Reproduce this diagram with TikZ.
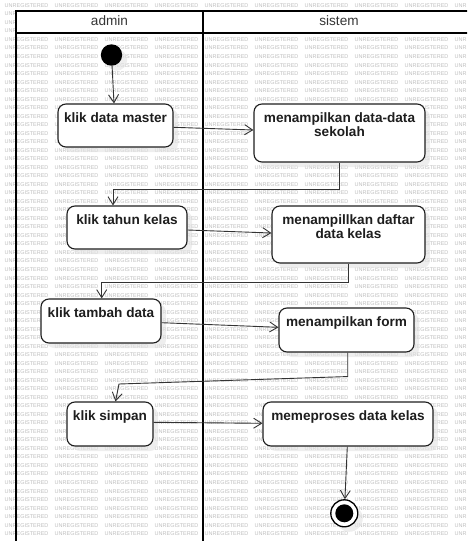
\documentclass[tikz,border=0pt]{standalone}
\usepackage{fontspec}
\setmainfont{Liberation Sans}
\usetikzlibrary{arrows.meta,shadows}
\definecolor{wmgray}{RGB}{190,190,190}
\definecolor{ink}{RGB}{30,30,30}
\definecolor{wire}{RGB}{51,51,51}
\begin{document}
\begin{tikzpicture}[x=1pt,y=-1pt,
  wm/.style={inner sep=0pt, anchor=west, text=wmgray, font=\fontsize{5.5}{6}\selectfont},
  lanerule/.style={line width=2pt, draw=black},
  lanehead/.style={inner sep=0pt, font=\fontsize{13.6}{14}\selectfont, text=ink!90},
  softshadow/.style={drop shadow={shadow xshift=5pt, shadow yshift=-5pt, fill=gray!22, opacity=0.6}},
  act/.style={draw=ink, line width=1.1pt, fill=white, rounded corners=8pt, inner sep=0pt, softshadow},
  acttext/.style={anchor=north, yshift=-5.8pt, inner sep=3.33pt, align=center, text=ink,
    font=\bfseries\fontsize{13.6}{13.4}\selectfont},
  flow/.style={draw=wire, line width=0.9pt, -{Straight Barb[length=8pt,width=10pt]}},
]
\useasboundingbox (0,0) rectangle (467,541);
\clip (0,0) rectangle (467,541);

% tiled licence watermark under the whole sheet; the last column runs into the edge
\foreach \r in {0,...,62}{
  \foreach \c in {0,...,8}{
    \node[wm] (wm-\r-\c) at (4.5+50*\c, 5.5+8.52*\r) {UNREGISTERED};
  }
  \node[wm] (wm-\r-9) at (454.5, 5.5+8.52*\r) {UNR};
}

% swimlane frame and headers
\fill[white] (16,11) rectangle (480,32.5);
\draw[lanerule] (480,11) -- (16,11) -- (16,560);
\draw[lanerule] (16,32.5) -- (480,32.5);
\draw[lanerule] (203,11) -- (203,560);
\node[lanehead] (hadmin) at (109.5,21) {admin};
\node[lanehead] (hsistem) at (339,21) {sistem};

% initial and final states
\node[circle, fill=black, minimum size=21.4pt, inner sep=0pt, softshadow] (start) at (111.5,55) {};
\node[circle, draw=black, line width=1.3pt, fill=white, minimum size=27pt, inner sep=0pt, softshadow] (end) at (344.3,513.3) {};
\node[circle, fill=black, minimum size=18pt, inner sep=0pt] (endcore) at (end) {};

% admin actions
\node[act, minimum width=115pt, minimum height=43pt, label={[acttext]north:klik data master}] (a1) at (115.5,125.5) {};
\node[act, minimum width=120pt, minimum height=43pt, label={[acttext]north:klik tahun kelas}] (a2) at (127,227.5) {};
\node[act, minimum width=120pt, minimum height=44pt, label={[acttext]north:klik tambah data}] (a3) at (101,321) {};
\node[act, minimum width=86pt, minimum height=44pt, label={[acttext]north:klik simpan}] (a4) at (110,424) {};

% system actions
\node[act, minimum width=171pt, minimum height=58pt, label={[acttext]north:menampilkan data-data\\sekolah}] (s1) at (339.5,133) {};
\node[act, minimum width=153pt, minimum height=57pt, label={[acttext]north:menampillkan daftar\\data kelas}] (s2) at (348.5,234.5) {};
\node[act, minimum width=135pt, minimum height=44pt, label={[acttext]north:menampilkan form}] (s3) at (346.5,330) {};
\node[act, minimum width=170pt, minimum height=44pt, label={[acttext]north:memeproses data kelas}] (s4) at (348,424) {};

% control flow
\coordinate (bend4) at (119,384);
\draw[flow] (start) -- ([xshift=-1.5pt]a1.north);
\draw[flow] ([yshift=-1.8pt]a1.east) -- ([yshift=3pt]s1.west);
\draw[flow] (s1.south) -- ++(0,27) -| ([xshift=-14pt]a2.north);
\draw[flow] ([yshift=-2.5pt]a2.east) -- ([yshift=1.5pt]s2.west);
\draw[flow] ([xshift=-0.5pt]s2.south) -- ++(0,18.5) -| ([xshift=0.7pt]a3.north);
\draw[flow] ([yshift=-1.7pt]a3.east) -- ([yshift=2.7pt]s3.west);
\draw[flow] ([xshift=1.2pt]s3.south) -- ++(0,24) -- (bend4) -- ([xshift=5.5pt]a4.north);
\draw[flow] ([yshift=1.7pt]a4.east) -- ([yshift=0.7pt]s4.west);
\draw[flow] ([xshift=-0.7pt]s4.south) -- (end);
\end{tikzpicture}
\end{document}
